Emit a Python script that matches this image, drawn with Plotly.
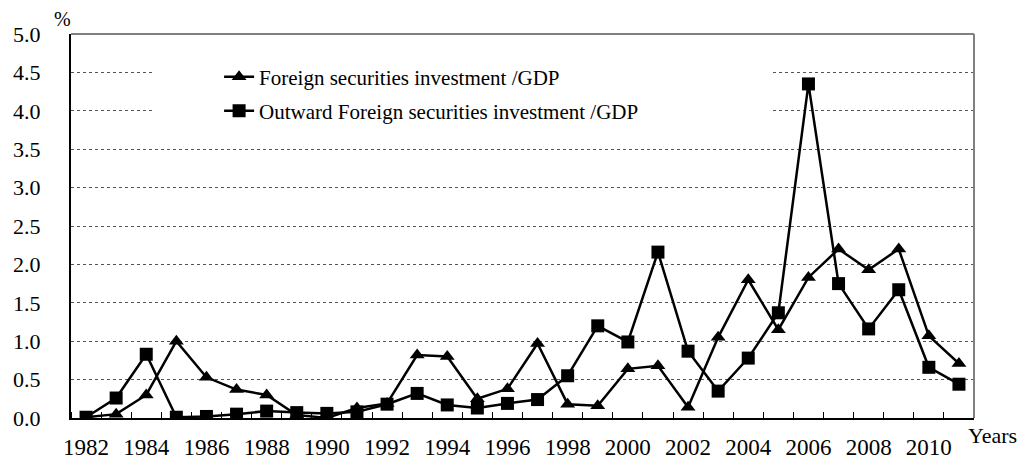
import plotly.graph_objects as go

years = list(range(1982, 2012))
foreign = [0.01, 0.05, 0.30, 1.00, 0.53, 0.37, 0.30, 0.04, 0.00, 0.13,
           0.19, 0.82, 0.80, 0.25, 0.38, 0.97, 0.18, 0.16, 0.64, 0.68,
           0.14, 1.05, 1.80, 1.15, 1.83, 2.20, 1.93, 2.20, 1.07, 0.71]
outward = [0.01, 0.26, 0.83, 0.01, 0.02, 0.05, 0.09, 0.07, 0.06, 0.08,
           0.18, 0.32, 0.17, 0.13, 0.19, 0.24, 0.55, 1.20, 0.99, 2.16,
           0.87, 0.35, 0.78, 1.37, 4.35, 1.75, 1.16, 1.67, 0.66, 0.44]
x_labels = [str(y) for y in range(1982, 2012, 2)]
y_ticks = [i * 0.5 for i in range(11)]

FONT = "Times New Roman, Liberation Serif, serif"

fig = go.Figure()
fig.add_trace(go.Scatter(
    x=years, y=foreign, mode="lines+markers",
    name="Foreign securities investment /GDP",
    line=dict(color="black", width=2.5),
    marker=dict(symbol="triangle-up", size=13, color="black"),
    legend="legend", showlegend=True,
))
fig.add_trace(go.Scatter(
    x=years, y=outward, mode="lines+markers",
    name="Outward Foreign securities investment /GDP",
    line=dict(color="black", width=2.5),
    marker=dict(symbol="square", size=13, color="black"),
    legend="legend2", showlegend=True,
))

# page body has an 8px margin, so the figure is drawn 8px smaller and offset
fig.update_layout(
    width=1017, height=451,
    margin=dict(l=63, r=51, t=26, b=41, autoexpand=False),
    paper_bgcolor="white", plot_bgcolor="white",
    font=dict(family=FONT, size=22, color="black"),
    showlegend=True,
    legend=dict(x=0.164, y=0.888, xanchor="left", yanchor="middle",
                bgcolor="rgba(0,0,0,0)", font=dict(size=21)),
    legend2=dict(x=0.164, y=0.799, xanchor="left", yanchor="middle",
                 bgcolor="rgba(0,0,0,0)", font=dict(size=21)),
    shapes=[
        dict(type="rect", xref="paper", yref="paper", x0=0.0897, x1=0.776,
             y0=0.755, y1=0.945, fillcolor="white", line=dict(width=0),
             layer="above"),
        dict(type="line", xref="paper", yref="paper", x0=0, x1=1, y0=1, y1=1,
             line=dict(color="#808080", width=2), layer="above"),
        dict(type="line", xref="paper", yref="paper", x0=1, x1=1, y0=0, y1=1,
             line=dict(color="#808080", width=2), layer="above"),
    ],
    annotations=[
        dict(text="%", xref="paper", yref="paper", x=-0.009, y=1.039,
             xanchor="center", yanchor="middle", showarrow=False,
             font=dict(size=20)),
        dict(text="Years", xref="paper", yref="paper", x=1.021, y=-0.045,
             xanchor="center", yanchor="middle", showarrow=False,
             font=dict(size=22)),
    ],
)

fig.update_xaxes(
    range=[years[0] - 0.5, years[-1] + 0.5], automargin=False,
    tickmode="array", tickvals=[int(v) for v in x_labels], ticktext=x_labels,
    tickfont=dict(size=23),
    ticks="", showgrid=False, zeroline=False,
    showline=True, linecolor="black", linewidth=2,
    minor=dict(tickmode="linear", tick0=years[0] - 0.5, dtick=1,
               ticks="inside", ticklen=6, tickcolor="black", tickwidth=1,
               showgrid=False),
    ticklabelstandoff=7,
)
fig.update_yaxes(
    range=[0, 5], automargin=False, tickmode="array", tickvals=y_ticks,
    ticktext=[f"{v:.1f}" for v in y_ticks],
    ticks="", showgrid=True, gridcolor="#555555", griddash="dot", gridwidth=1,
    zeroline=False, showline=True, linecolor="black", linewidth=2,
    ticklabelstandoff=24,
)

fig.write_html("out.html")
